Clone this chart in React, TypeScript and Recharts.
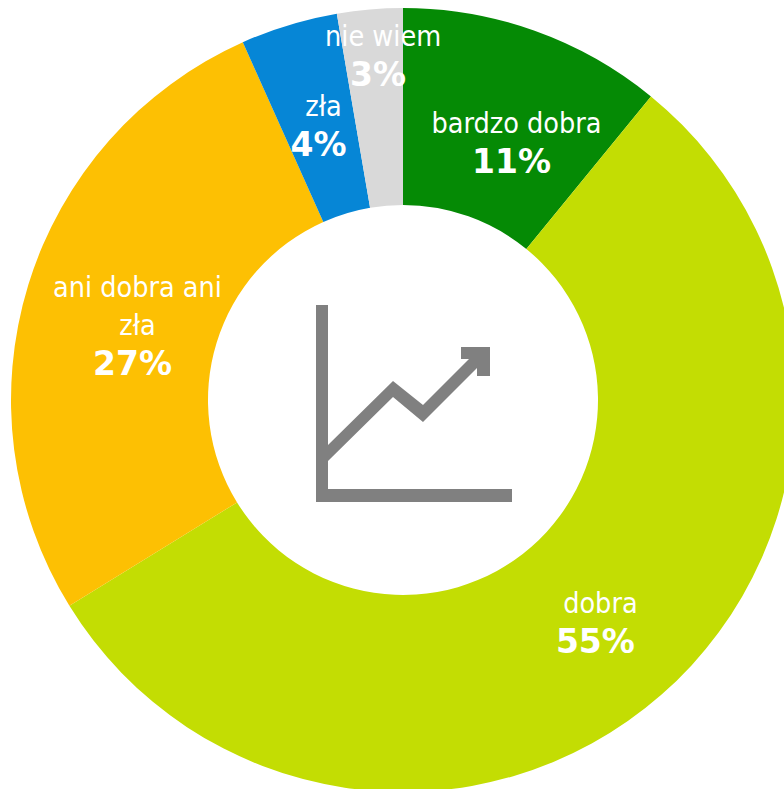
import React from 'react';
import { PieChart, Pie, Cell } from 'recharts';

const categories = ['bardzo dobra', 'dobra', 'ani dobra ani|zła', 'zła', 'nie wiem'];
const shares = [10.9, 55.3, 27.1, 4, 2.7];
const colors = ['#058a05', '#c3dd03', '#fdc003', '#0686d6', '#d9d9d9'];

const data = categories.map((name, i) => ({ name, value: shares[i] }));

// label nudges from the default centre of each ring slice
const labelNudge = [
  { dx: 15, dy: 0 },
  { dx: 4, dy: -17 },
  { dx: 15, dy: -26 },
  { dx: 6, dy: -12 },
  { dx: 5, dy: -71 },
];

const RADIAN = Math.PI / 180;
const font = '"DejaVu Sans Condensed", "DejaVu Sans", sans-serif';

const renderLabel = (props: any) => {
  const { cx, cy, midAngle, innerRadius, outerRadius, index, name, value } = props;
  const r = (innerRadius + outerRadius) / 2;
  const x = cx + r * Math.cos(-midAngle * RADIAN) + labelNudge[index].dx;
  const y = cy + r * Math.sin(-midAngle * RADIAN) + labelNudge[index].dy;
  const lines = String(name).split('|');
  return (
    <text x={x} y={y} textAnchor="middle" fill="#ffffff" fontFamily={font}>
      {lines.map((line, i) => (
        <tspan key={line} x={x} dy={i === 0 ? 9 : 38} fontSize={28.5}>
          {line}
        </tspan>
      ))}
      <tspan x={x - 5} dy={40} fontSize={33} fontWeight="bold" fontFamily='"DejaVu Sans", sans-serif'>
        {Math.round(value)}%
      </tspan>
    </text>
  );
};

const TrendIcon = () => (
  <svg
    width={784}
    height={789}
    style={{ position: 'absolute', left: 0, top: 0, pointerEvents: 'none' }}
  >
    <path
      d="M316 305H328V489H512V502H316Z M328 445L393 381L423 405L469 359H461V347H490V376H477V368L423 422L393 397L328 461Z"
      fill="#808080"
    />
  </svg>
);

export default function App() {
  return (
    <div style={{ position: 'absolute', left: 0, top: 0, width: 784, height: 789, overflow: 'hidden' }}>
      <PieChart width={784} height={789} margin={{ top: 0, right: 0, bottom: 0, left: 0 }}>
        <Pie
          data={data}
          dataKey="value"
          nameKey="name"
          cx={403}
          cy={400}
          innerRadius={195}
          outerRadius={392}
          startAngle={90}
          endAngle={-270}
          stroke="none"
          label={renderLabel}
          labelLine={false}
          isAnimationActive={false}
        >
          {data.map((d, i) => (
            <Cell key={d.name} fill={colors[i]} />
          ))}
        </Pie>
      </PieChart>
      <TrendIcon />
    </div>
  );
}
